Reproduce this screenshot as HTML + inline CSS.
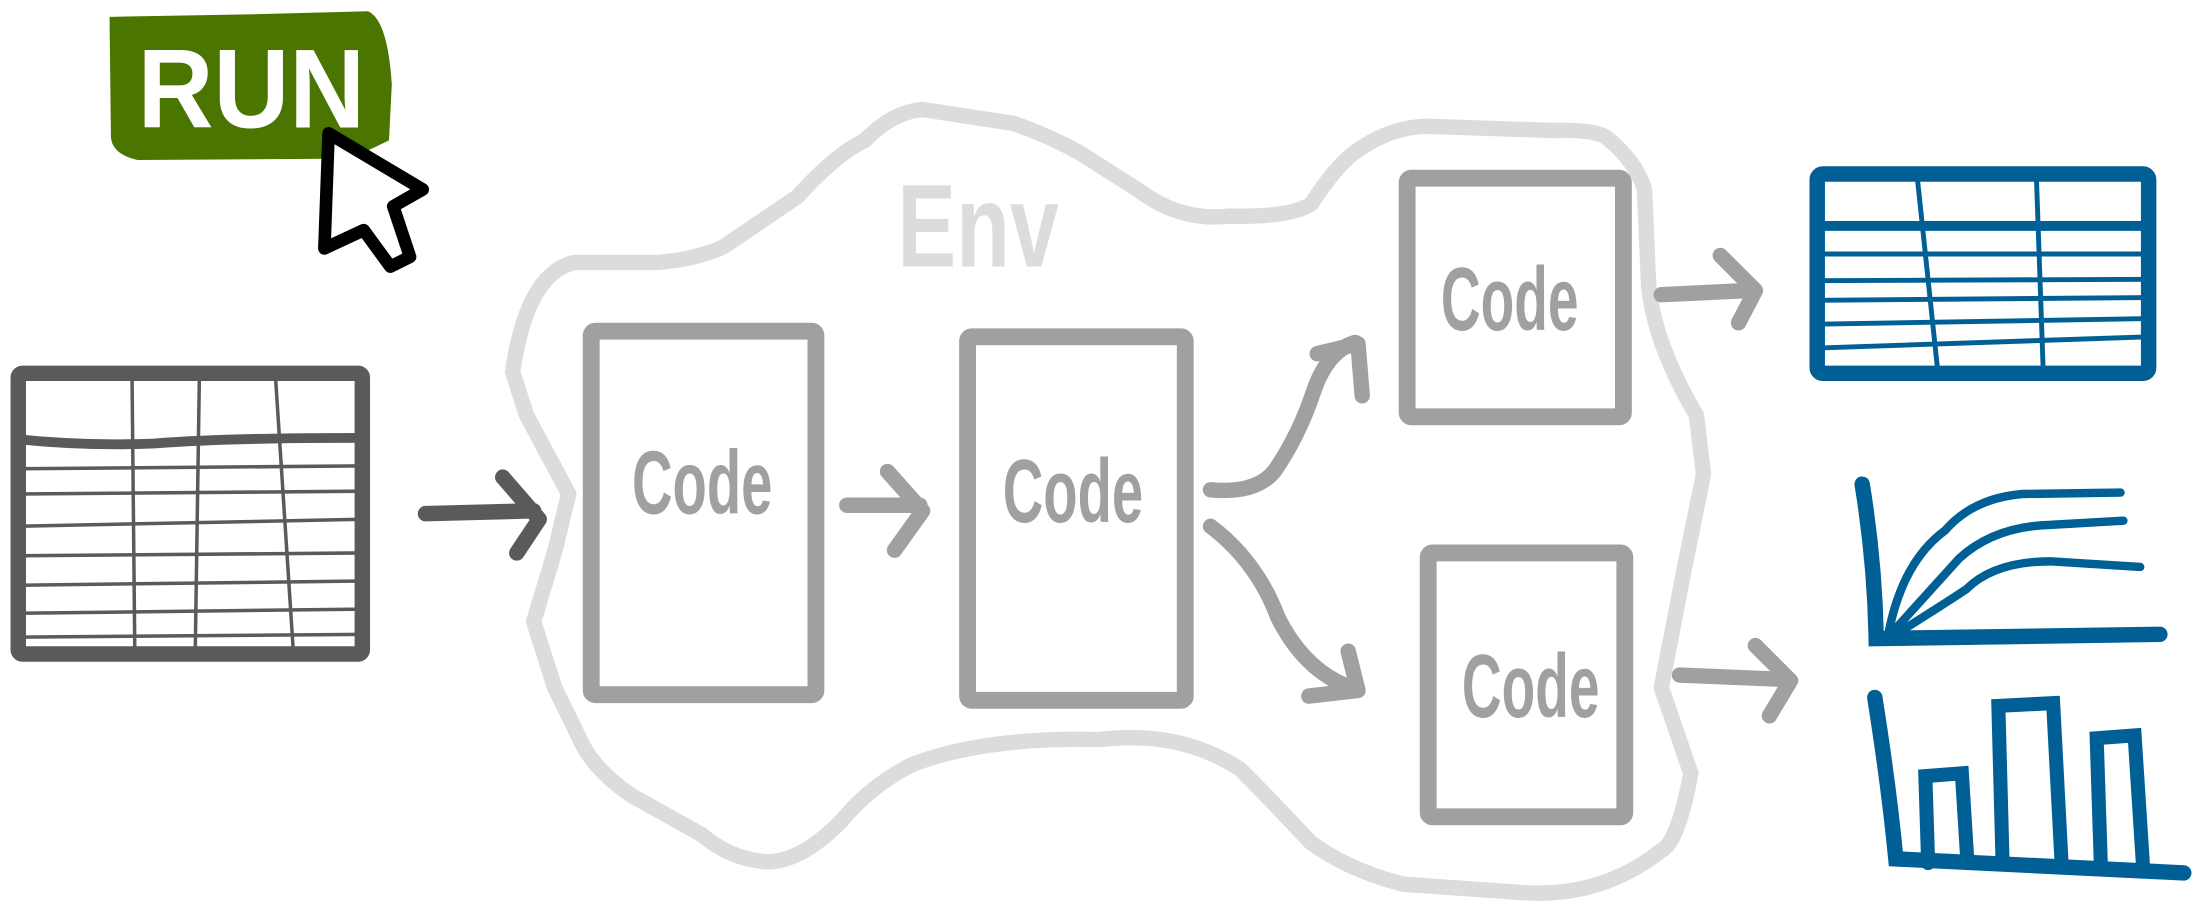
<!DOCTYPE html>
<html><head><style>html,body{margin:0;padding:0;background:#fff;overflow:hidden}svg{display:block}</style></head>
<body>
<svg width="2202" height="908" viewBox="0 0 1568 647" preserveAspectRatio="none" xmlns="http://www.w3.org/2000/svg" font-family="Liberation Sans, sans-serif">
<!-- RUN button -->
<path d="M78,12 L188,10 L262,8 Q276,14 279,60 L277,100 L250,113 L98,114 Q80,110 79,98 Z" fill="#4a7500"/>
<text x="98" y="91" font-size="80" font-weight="bold" fill="#fff" textLength="162" lengthAdjust="spacingAndGlyphs">RUN</text>
<path d="M234,95 L231,177 L259,164 L278,190 L292,183 L280,147 L301,135 Z" fill="#fff" stroke="#000" stroke-width="9" stroke-linejoin="round"/>
<!-- left table -->
<g stroke="#5a5a5a" fill="none">
<rect x="13" y="266" width="245" height="200" stroke-width="11" rx="3"/>
<path d="M13,313 Q60,318 110,316 Q160,312 258,312" stroke-width="7"/>
<g stroke-width="2.5">
<line x1="13" y1="334" x2="258" y2="332"/><line x1="13" y1="352" x2="258" y2="350"/><line x1="13" y1="375" x2="258" y2="370"/><line x1="13" y1="396" x2="258" y2="394"/><line x1="13" y1="417" x2="258" y2="414"/><line x1="13" y1="437" x2="258" y2="434"/><line x1="13" y1="454" x2="258" y2="452"/>
<line x1="94" y1="266" x2="96" y2="466"/><line x1="142" y1="266" x2="139" y2="466"/><line x1="196" y1="266" x2="209" y2="466"/>
</g></g>
<g stroke="#5a5a5a" stroke-width="11" fill="none" stroke-linecap="round" stroke-linejoin="round"><path d="M303,366 L380,364"/><path d="M358,340 L384,370 L368,394"/></g>
<!-- env cloud -->
<path d="M365,265 Q375,195 409,187 L468,187 Q495,185 515,176 L568,140 Q595,110 616,100 Q635,80 657,78 L722,88 Q750,98 769,109 L810,135 Q840,158 875,154 Q920,155 934,145 Q950,120 964,109 Q990,90 1017,90 L1106,93 Q1135,92 1144,98 Q1165,115 1171,135 L1174,204 Q1178,245 1208,296 L1213,338 L1199,407 L1183,490 L1204,551 Q1195,600 1183,606 Q1140,640 1084,636 L999,630 Q960,620 933,600 Q905,570 883,548 Q840,520 783,527 Q700,525 649,545 Q620,560 600,584 Q570,615 545,614 Q520,612 500,595 L450,567 Q425,550 415,531 L395,490 L380,443 L395,393 L405,352 L375,296 Z" fill="none" stroke="#dcdcdc" stroke-width="11" stroke-linejoin="round"/>
<text x="639" y="190" font-size="84" fill="#dcdcdc" font-weight="bold" textLength="115" lengthAdjust="spacingAndGlyphs">Env</text>
<!-- code boxes -->
<g stroke="#a0a0a0" stroke-width="12" fill="none" stroke-linejoin="round">
<rect x="421" y="236" width="160" height="259" rx="3"/>
<rect x="689" y="240" width="155" height="259" rx="3"/>
<rect x="1002" y="127" width="154" height="170" rx="3"/>
<rect x="1017" y="394" width="140" height="188" rx="3"/>
</g>
<g fill="#a0a0a0" font-size="64" font-weight="bold">
<text x="450" y="366" textLength="100" lengthAdjust="spacingAndGlyphs">Code</text>
<text x="714" y="372" textLength="100" lengthAdjust="spacingAndGlyphs">Code</text>
<text x="1026" y="235" textLength="98" lengthAdjust="spacingAndGlyphs">Code</text>
<text x="1041" y="511" textLength="98" lengthAdjust="spacingAndGlyphs">Code</text>
</g>
<!-- gray arrows -->
<g stroke="#a0a0a0" stroke-width="11" fill="none" stroke-linecap="round" stroke-linejoin="round">
<path d="M603,360 L655,360"/><path d="M632,336 L657,364 L637,392"/>
<path d="M862,349 Q895,352 908,335 Q925,310 935,280 Q945,250 965,244"/><path d="M938,252 L967,245 L970,282"/>
<path d="M862,375 Q895,400 910,440 Q930,480 965,491"/><path d="M932,496 L967,492 L960,464"/>
<path d="M1183,210 L1245,207"/><path d="M1225,182 L1250,207 L1238,230"/>
<path d="M1196,481 L1268,484"/><path d="M1250,460 L1275,485 L1260,510"/>
</g>
<!-- right outputs -->
<g stroke="#006096" fill="none" stroke-linecap="round">
<rect x="1294" y="124" width="236" height="142" rx="4" stroke-width="11"/>
<line x1="1294" y1="161" x2="1530" y2="161" stroke-width="7"/>
<g stroke-width="3.5">
<line x1="1294" y1="181" x2="1530" y2="181"/><line x1="1294" y1="200" x2="1530" y2="199"/><line x1="1294" y1="214" x2="1530" y2="212"/><line x1="1294" y1="231" x2="1530" y2="227"/><line x1="1294" y1="248" x2="1530" y2="240"/>
<line x1="1365" y1="124" x2="1380" y2="266"/><line x1="1450" y1="124" x2="1455" y2="266"/>
</g>
<path d="M1326,345 Q1335,400 1336,455 L1538,452" stroke-width="11"/>
<g stroke-width="6"><path d="M1345,450 Q1355,400 1385,378 Q1405,355 1440,352 L1510,351"/><path d="M1348,450 Q1375,420 1395,398 Q1420,375 1460,374 L1512,371"/><path d="M1350,452 Q1385,430 1400,420 Q1420,400 1460,400 L1524,404"/></g>
<path d="M1335,497 Q1345,560 1350,612 L1555,622" stroke-width="11"/>
<path d="M1373,615 L1371,553 L1397,551 L1401,615" stroke-width="10"/>
<path d="M1426,615 L1423,503 L1462,501 L1468,615" stroke-width="10"/>
<path d="M1496,617 L1493,526 L1520,524 L1526,617" stroke-width="10"/>
</g>
</svg>
</body></html>
